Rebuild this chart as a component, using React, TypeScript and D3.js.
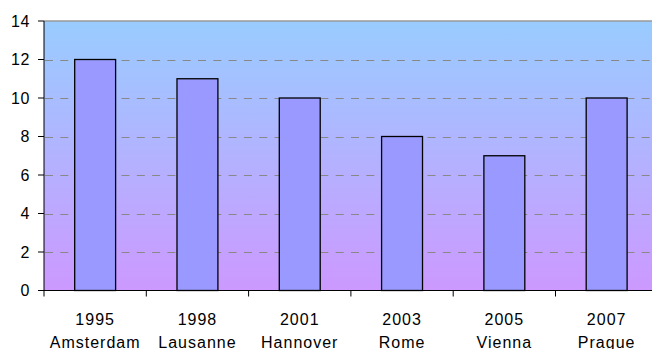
import * as d3 from "d3";

const years = ["1995", "1998", "2001", "2003", "2005", "2007"];
const cities = ["Amsterdam", "Lausanne", "Hannover", "Rome", "Vienna", "Prague"];
const values = [12, 11, 10, 8, 7, 10];
const yTicks = [0, 2, 4, 6, 8, 10, 12, 14];

const width = 652,
  height = 349,
  marginLeft = 44,
  marginTop = 21,
  plotBottom = 290.5,
  bandWidth = 102.3;

export default function App() {
  const x = d3
    .scaleBand<string>()
    .domain(years)
    .range([marginLeft, marginLeft + bandWidth * years.length])
    .paddingInner(0.6)
    .paddingOuter(0.3);
  const y = d3.scaleLinear().domain([0, 14]).range([plotBottom, marginTop]);
  const step = x.step();
  const right = marginLeft + bandWidth * years.length;
  const font = "'Liberation Sans', Arial, sans-serif";

  return (
    <svg
      width={width}
      height={height}
      style={{ position: "absolute", left: 0, top: 0 }}
    >
      <defs>
        <linearGradient id="bg" x1="0" y1="0" x2="0" y2="1">
          <stop offset="0" stopColor="#99CCFF" />
          <stop offset="1" stopColor="#CC99FF" />
        </linearGradient>
      </defs>
      <rect
        x={marginLeft}
        y={y(14)}
        width={right - marginLeft}
        height={y(0) - y(14)}
        fill="url(#bg)"
      />
      <line x1={marginLeft} x2={right} y1={y(14)} y2={y(14)} stroke="#999" strokeWidth={1.5} />
      {yTicks
        .filter((t) => t > 0 && t < 14)
        .map((t) => (
          <line
            key={t}
            x1={marginLeft + 1}
            x2={right}
            y1={Math.round(y(t)) + 0.5}
            y2={Math.round(y(t)) + 0.5}
            stroke="#888"
            strokeDasharray="8 7.3"
          />
        ))}
      {years.map((yr, i) => (
        <rect
          key={yr}
          x={x(yr)}
          y={y(values[i])}
          width={x.bandwidth()}
          height={y(0) - y(values[i])}
          fill="#9999FF"
          stroke="#000"
          strokeWidth={1.3}
        />
      ))}
      <line x1={marginLeft} x2={marginLeft} y1={y(14)} y2={y(0)} stroke="#000" />
      <line x1={marginLeft - 6} x2={right} y1={y(0)} y2={y(0)} stroke="#000" />
      {yTicks.map((t) => (
        <g key={t}>
          <line x1={marginLeft - 6} x2={marginLeft} y1={y(t)} y2={y(t)} stroke="#000" />
          <text
            x={30}
            y={y(t)}
            dy="0.35em"
            textAnchor="end"
            fontFamily={font}
            fontSize={16}
            letterSpacing={0.6}
            fill="#000"
          >
            {t}
          </text>
        </g>
      ))}
      {years.map((yr, i) => {
        const tx = marginLeft + i * step;
        const cx = tx + step / 2;
        return (
          <g key={yr}>
            <line x1={tx} x2={tx} y1={y(0)} y2={y(0) + 6} stroke="#000" />
            <text x={cx} y={324.5} textAnchor="middle" fontFamily={font} fontSize={16} letterSpacing={1} fill="#000">
              {yr}
            </text>
            <text x={cx} y={347.5} textAnchor="middle" fontFamily={font} fontSize={16} letterSpacing={1} fill="#000">
              {cities[i]}
            </text>
          </g>
        );
      })}
    </svg>
  );
}
